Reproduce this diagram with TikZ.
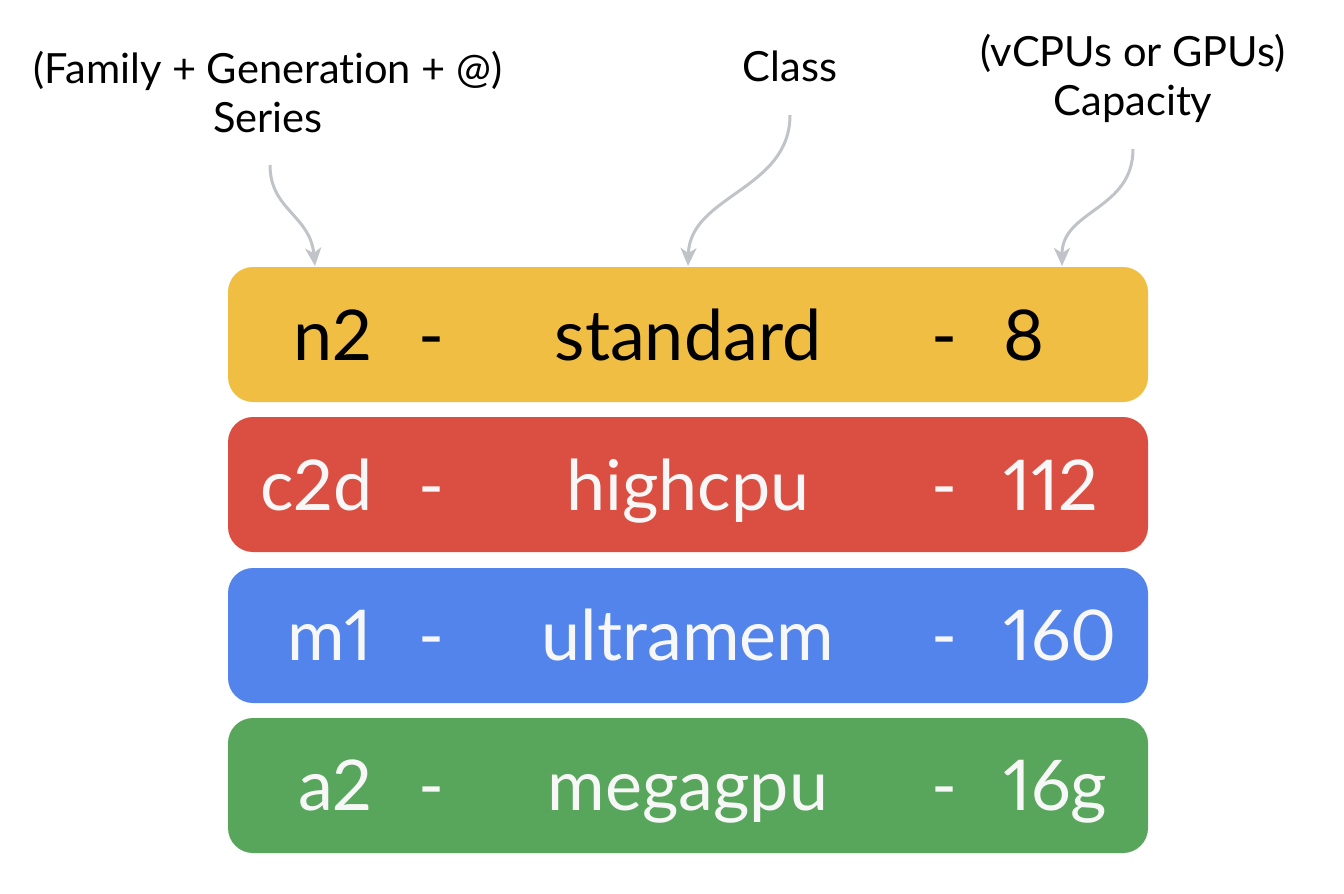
\documentclass[tikz,border=0pt]{standalone}
\usepackage{fontspec}
\setmainfont{Lato}[Ligatures=NoCommon,Numbers=Proportional]
\usetikzlibrary{arrows.meta}
\definecolor{cyel}{HTML}{F0BE42}
\definecolor{cred}{HTML}{DA4F41}
\definecolor{cblue}{HTML}{5284EB}
\definecolor{cgreen}{HTML}{58A65C}
\definecolor{cgray}{HTML}{C0C3C7}
\definecolor{cwhite}{HTML}{F7F7F7}
\tikzset{
  bar/.style={rounded corners=12.5pt, line width=0pt},
  big/.style={font=\fontsize{35}{40}\selectfont, anchor=base, inner sep=0pt},
  lbl/.style={font=\fontsize{20.8}{24}\selectfont, anchor=base, inner sep=0pt},
  pointer/.style={draw=cgray, line width=1.5pt, -{Stealth[length=9pt,width=8pt,inset=2.5pt]}}
}
\begin{document}
\begin{tikzpicture}[x=0.5pt,y=-0.5pt]
\useasboundingbox (0,0) rectangle (1344,894);
% bars
\fill[cyel,bar] (228,267) rectangle (1148,402);
\fill[cred,bar] (228,417) rectangle (1148,552);
\fill[cblue,bar] (228,568) rectangle (1148,703);
\fill[cgreen,bar] (228,718) rectangle (1148,853);
% anchor coordinates on bar top
\coordinate (tS) at (315,266);
\coordinate (tC) at (688,266);
\coordinate (tP) at (1062,266);
% labels
\node[lbl] (fam) at (268,83) {(Family + Generation + @)};
\node[lbl] (ser) at (268,132) {Series};
\node[lbl] (cls) at (790,81) {Class};
\node[lbl] (vcp) at (1133,66) {(vCPUs or GPUs)};
\node[lbl] (cap) at (1133,115) {Capacity};
% arrows
\coordinate (sS) at (270,165);
\coordinate (sC) at (790,115);
\coordinate (sP) at (1133,149);
\draw[pointer] (sS) .. controls (270,210) and (310,215) .. (tS);
\draw[pointer] (sC) .. controls (790,190) and (690,195) .. (tC);
\draw[pointer] (sP) .. controls (1133,210) and (1062,210) .. (tP);
% row 1
\node[big, anchor=base east] (s1) at (373,360) {n2};
\node[big] (d11) at (431,360) {-};
\node[big] (c1) at (688,360) {standard};
\node[big] (d12) at (944,360) {-};
\node[big, anchor=base west] (p1) at (1003,360) {8};
% rows 2-4
\begin{scope}[every node/.append style={text=cwhite}]
\node[big, anchor=base east] (s2) at (373,510) {c2d};
\node[big] (d21) at (431,510) {-};
\node[big] (c2) at (688,510) {highcpu};
\node[big] (d22) at (944,510) {-};
\node[big, anchor=base west] (p2) at (1003,510) {112};
\node[big, anchor=base east] (s3) at (373,660) {m1};
\node[big] (d31) at (431,660) {-};
\node[big] (c3) at (688,660) {ultramem};
\node[big] (d32) at (944,660) {-};
\node[big, anchor=base west] (p3) at (1003,660) {160};
\node[big, anchor=base east] (s4) at (373,810) {a2};
\node[big] (d41) at (431,810) {-};
\node[big] (c4) at (688,810) {megagpu};
\node[big] (d42) at (944,810) {-};
\node[big, anchor=base west] (p4) at (1003,810) {16g};
\end{scope}
\end{tikzpicture}
\end{document}
